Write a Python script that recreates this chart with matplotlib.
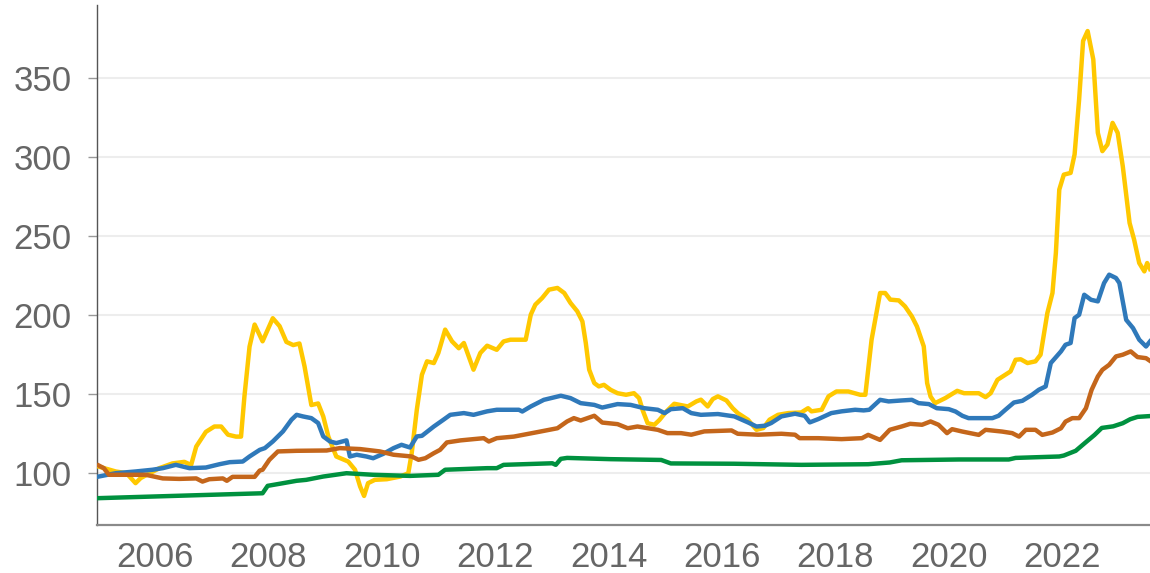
import matplotlib
matplotlib.use("Agg")
import matplotlib.pyplot as plt
from matplotlib.ticker import FixedLocator, FuncFormatter

# ---- data (decimal years, index values) ----
yellow_x = [2005.01, 2005.31, 2005.5, 2005.66, 2005.75, 2006.08, 2006.31, 2006.52, 2006.64, 2006.73,
            2006.9, 2007.05, 2007.17, 2007.29, 2007.43, 2007.52, 2007.58, 2007.67, 2007.76, 2007.9,
            2008.08, 2008.2, 2008.32, 2008.44, 2008.55, 2008.64, 2008.76, 2008.88, 2008.97, 2009.06,
            2009.2, 2009.41, 2009.53, 2009.62, 2009.69, 2009.76, 2009.88, 2010.09, 2010.33, 2010.47,
            2010.53, 2010.62, 2010.71, 2010.8, 2010.92, 2011.0, 2011.12, 2011.24, 2011.36, 2011.45,
            2011.62, 2011.74, 2011.86, 2012.03, 2012.15, 2012.27, 2012.54, 2012.63, 2012.71, 2012.83,
            2012.95, 2013.1, 2013.22, 2013.33, 2013.45, 2013.54, 2013.6, 2013.66, 2013.75, 2013.83,
            2013.92, 2014.04, 2014.16, 2014.31, 2014.45, 2014.54, 2014.6, 2014.69, 2014.81, 2014.9,
            2015.02, 2015.16, 2015.4, 2015.55, 2015.63, 2015.75, 2015.84, 2015.93, 2016.08, 2016.19,
            2016.28, 2016.46, 2016.61, 2016.73, 2016.84, 2016.99, 2017.17, 2017.4, 2017.52, 2017.58,
            2017.76, 2017.88, 2018.02, 2018.23, 2018.44, 2018.53, 2018.64, 2018.79, 2018.88, 2018.97,
            2019.12, 2019.23, 2019.35, 2019.44, 2019.56, 2019.62, 2019.68, 2019.76, 2019.94, 2020.15,
            2020.27, 2020.53, 2020.65, 2020.74, 2020.86, 2020.97, 2021.09, 2021.18, 2021.27, 2021.39,
            2021.53, 2021.62, 2021.74, 2021.83, 2021.89, 2021.95, 2022.03, 2022.15, 2022.22, 2022.3,
            2022.37, 2022.45, 2022.55, 2022.63, 2022.71, 2022.8, 2022.89, 2022.98, 2023.07, 2023.19,
            2023.27, 2023.36, 2023.45, 2023.5, 2023.55]
yellow_y = [104, 100.9, 99.8, 93.5, 96.7, 103, 106, 107, 105, 116.7,
            126, 129.4, 129.4, 124.2, 123, 123, 148.5, 180, 194, 183.4,
            198, 193, 183, 181, 182, 167.5, 143, 144, 135.8, 123,
            110.4, 107.2, 102, 91.4, 85.4, 93.5, 95.6, 96, 97.7, 99.8,
            112.5, 140, 162.2, 170.7, 169.6, 176, 190.8, 183.4, 179, 182.3,
            165.4, 176, 180.6, 178, 183.3, 184.4, 184.4, 200.3, 206.6, 210.8,
            216.1, 217.2, 214, 207.7, 202.4, 196, 182.3, 165.4, 156.9, 154.8,
            155.8, 152.6, 150.5, 149.5, 150.5, 147.4, 140, 131.5, 130.5, 133.6,
            138.9, 143.8, 142.1, 145.3, 146.4, 142.1, 146.8, 148.5, 145.9, 141,
            137.9, 133.7, 127.3, 128.4, 133.7, 136.8, 137.9, 138.3, 141, 139,
            140, 148.5, 151.6, 151.6, 149.5, 149.5, 184.4, 214, 214, 209.8,
            209.3, 205.5, 199.2, 192.8, 180.2, 156.9, 148.4, 144.2, 147.4, 152,
            150.5, 150.5, 148, 150.5, 159, 161.5, 164.3, 171.7, 172, 169.6,
            170.7, 174.9, 201.3, 214, 239.4, 279.5, 289, 290.1, 301.8, 336.6,
            373.7, 380, 362, 315.5, 303.9, 308.1, 321.8, 315.5, 294.3, 258.4,
            247.8, 233, 227.7, 233, 229.2]

blue_x = [2005.01, 2005.31, 2005.66, 2005.96, 2006.14, 2006.37, 2006.61, 2006.9, 2007.14, 2007.32,
          2007.55, 2007.67, 2007.85, 2007.94, 2008.08, 2008.26, 2008.41, 2008.5, 2008.61, 2008.76,
          2008.88, 2008.97, 2009.09, 2009.2, 2009.38, 2009.44, 2009.56, 2009.73, 2009.85, 2010.03,
          2010.21, 2010.35, 2010.5, 2010.62, 2010.71, 2010.92, 2011.09, 2011.21, 2011.45, 2011.62,
          2011.86, 2012.03, 2012.42, 2012.48, 2012.63, 2012.86, 2013.16, 2013.33, 2013.51, 2013.75,
          2013.89, 2014.16, 2014.39, 2014.63, 2014.87, 2014.99, 2015.1, 2015.31, 2015.46, 2015.63,
          2015.93, 2016.22, 2016.46, 2016.61, 2016.76, 2016.87, 2017.05, 2017.29, 2017.46, 2017.55,
          2017.7, 2017.93, 2018.11, 2018.35, 2018.5, 2018.6, 2018.79, 2018.94, 2019.17, 2019.35,
          2019.47, 2019.65, 2019.79, 2020.0, 2020.12, 2020.24, 2020.35, 2020.77, 2020.88, 2021.0,
          2021.15, 2021.3, 2021.47, 2021.59, 2021.71, 2021.8, 2021.98, 2022.06, 2022.15, 2022.22,
          2022.3, 2022.39, 2022.51, 2022.63, 2022.74, 2022.83, 2022.95, 2023.01, 2023.13, 2023.25,
          2023.36, 2023.48, 2023.55]
blue_y = [97.7, 99.8, 100.9, 102, 103, 105.1, 103, 103.4, 105.5, 106.8,
          107.2, 110.4, 114.6, 115.7, 119.9, 126.3, 133.7, 136.8, 135.8, 134.7,
          131.6, 123.1, 119.9, 118.9, 120.6, 110.4, 111.5, 110.4, 109.3, 112.1,
          115.7, 117.8, 116.1, 123.1, 123.5, 129.4, 133.7, 136.8, 137.9, 136.8,
          139, 140, 140, 138.9, 142.1, 146.3, 148.9, 147.4, 144.2, 143.1,
          141.4, 143.6, 143.1, 141, 140, 137.9, 140.4, 141, 137.9, 136.8,
          137.3, 135.8, 132, 129.4, 129.9, 131.6, 135.8, 137.5, 136.2, 132,
          134.1, 137.9, 139, 140, 139.6, 140, 146.3, 145.3, 145.9, 146.3,
          144.2, 143.6, 141, 140.4, 138.9, 136.2, 134.7, 134.7, 136.2, 140,
          144.6, 145.7, 149.5, 152.7, 154.8, 169.6, 177, 181.2, 182.3, 198.1,
          200.2, 212.9, 209.7, 208.7, 220.3, 225.6, 223.5, 220.3, 197, 191.8,
          184.4, 180.1, 183.3]

orange_x = [2005.01, 2005.1, 2005.19, 2005.84, 2006.14, 2006.43, 2006.73, 2006.84, 2006.96, 2007.2,
            2007.27, 2007.37, 2007.76, 2007.85, 2007.9, 2008.02, 2008.17, 2008.5, 2009.03, 2009.26,
            2009.62, 2009.97, 2010.21, 2010.53, 2010.65, 2010.77, 2010.92, 2011.03, 2011.15, 2011.39,
            2011.62, 2011.8, 2011.89, 2012.03, 2012.33, 2012.74, 2013.1, 2013.27, 2013.39, 2013.51,
            2013.75, 2013.89, 2014.16, 2014.34, 2014.51, 2014.87, 2015.04, 2015.28, 2015.46, 2015.69,
            2016.17, 2016.28, 2016.64, 2017.05, 2017.29, 2017.37, 2017.7, 2018.11, 2018.47, 2018.58,
            2018.79, 2018.96, 2019.17, 2019.32, 2019.53, 2019.68, 2019.82, 2019.97, 2020.06, 2020.24,
            2020.53, 2020.65, 2020.94, 2021.12, 2021.24, 2021.36, 2021.53, 2021.65, 2021.83, 2021.98,
            2022.06, 2022.18, 2022.3, 2022.42, 2022.52, 2022.63, 2022.71, 2022.83, 2022.95, 2023.07,
            2023.21, 2023.33, 2023.48, 2023.55]
orange_y = [104.7, 103, 98.8, 98.8, 96.5, 96.2, 96.5, 94.5, 96, 96.5,
            95, 97.5, 97.5, 101.5, 102, 108.3, 113.6, 114, 114.2, 115.7,
            115.1, 113.6, 111.5, 110.4, 108.3, 109.3, 112.5, 114.6, 119.3, 120.6,
            121.4, 122, 119.9, 122, 123, 125.8, 128.3, 132.6, 134.7, 133.2,
            136.2, 131.9, 130.9, 128.3, 129.4, 127.3, 125.2, 125.2, 124.2, 126.3,
            126.9, 124.8, 124.2, 124.8, 124.2, 122, 122, 121.4, 122, 124.1,
            120.9, 127.3, 129.4, 131.1, 130.5, 132.6, 130.5, 125.2, 127.7, 126.2,
            124.1, 127.3, 126.2, 125.2, 123, 127.3, 127.3, 124.1, 125.6, 128.3,
            132.5, 134.7, 134.7, 141, 152.6, 161.1, 165.3, 168.5, 173.8, 174.9,
            177, 173.4, 172.7, 171]

green_x = [2005.01, 2007.9, 2007.99, 2008.2, 2008.5, 2008.67, 2008.97, 2009.38, 2009.85, 2010.5,
           2011.0, 2011.12, 2011.86, 2012.03, 2012.15, 2013.01, 2013.07, 2013.16, 2013.27, 2014.04,
           2014.93, 2015.1, 2016.22, 2017.4, 2018.58, 2018.96, 2019.17, 2020.18, 2021.06, 2021.18,
           2021.95, 2022.03, 2022.24, 2022.42, 2022.57, 2022.7, 2022.9, 2023.07, 2023.2, 2023.33,
           2023.55]
green_y = [84, 87.1, 91.8, 93.1, 95, 95.6, 97.7, 99.8, 98.8, 98.1,
           98.8, 102, 103, 103, 105.1, 106.1, 105.1, 108.9, 109.5, 108.7,
           108.2, 106, 105.8, 105.1, 105.5, 106.6, 108, 108.5, 108.5, 109.5,
           110.4, 111, 114, 119.5, 124, 128.5, 129.5, 131.5, 134, 135.5,
           136]

year_ticks = [2006, 2008, 2010, 2012, 2014, 2016, 2018, 2020, 2022]
value_ticks = [100, 150, 200, 250, 300, 350]

# ---- drawing ----
plt.rcParams['font.family'] = ['Liberation Sans', 'DejaVu Sans']

fig = plt.figure(figsize=(11.5, 5.73), dpi=100)
ax = fig.add_axes([97 / 1150, 48.5 / 573, 1 - 97 / 1150, (524.5 - 5) / 573])

lw = 3.2
ax.plot(yellow_x, yellow_y, color='#FFC800', lw=lw, solid_joinstyle='round', zorder=3)
ax.plot(blue_x, blue_y, color='#2F79BA', lw=lw, solid_joinstyle='round', zorder=4)
ax.plot(orange_x, orange_y, color='#C4661B', lw=lw, solid_joinstyle='round', zorder=4)
ax.plot(green_x, green_y, color='#00913F', lw=lw, solid_joinstyle='round', zorder=4)

ax.set_xlim(2004.98, 2023.55)
ax.set_ylim(67.3, 396.5)

ax.yaxis.set_major_locator(FixedLocator(value_ticks))
ax.xaxis.set_major_locator(FixedLocator(year_ticks))
ax.xaxis.set_major_formatter(FuncFormatter(lambda v, p: f"{int(round(v))}"))

ax.grid(axis='y', color='#EDEDED', lw=1.5, zorder=0)
ax.set_axisbelow(True)

for s in ['top', 'right']:
    ax.spines[s].set_visible(False)
ax.spines['left'].set_color('#555555')
ax.spines['left'].set_linewidth(1.0)
ax.spines['bottom'].set_color('#8A8A8A')
ax.spines['bottom'].set_linewidth(1.6)

ax.tick_params(axis='y', length=6.5, width=1.0, color='#999999', pad=12,
               labelsize=25, labelcolor='#666666')
ax.tick_params(axis='x', length=0, pad=12, labelsize=25, labelcolor='#666666')

fig.savefig('out.png', dpi=100, facecolor='white')
